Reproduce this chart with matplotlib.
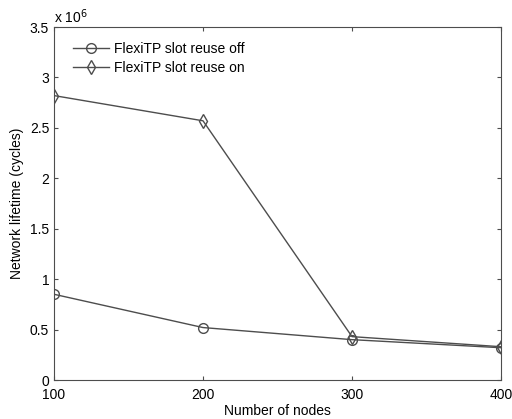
import matplotlib.pyplot as plt

plt.rcParams['font.family'] = ['Liberation Sans', 'DejaVu Sans']

nodes = [100, 200, 300, 400]
# network lifetime, in units of 10^6 cycles
reuse_off = [0.85, 0.52, 0.40, 0.32]
reuse_on = [2.82, 2.57, 0.43, 0.33]

fig = plt.figure(figsize=(5.12, 4.19), dpi=100)
ax = fig.add_axes([54 / 512, 1 - 380 / 419, 447 / 512, 353 / 419])

col = '0.3'
ax.plot(nodes, reuse_off, color=col, lw=1, marker='o', ms=7, mfc='none', mec=col, label='FlexiTP slot reuse off')
ax.plot(nodes, reuse_on, color=col, lw=1, marker='d', ms=7, mfc='none', mec=col, label='FlexiTP slot reuse on')

ax.set_xlim(100, 400)
ax.set_ylim(0, 3.5)
ax.set_xticks(nodes)
ax.set_yticks([0, 0.5, 1, 1.5, 2, 2.5, 3, 3.5])
ax.set_yticklabels(['0', '0.5', '1', '1.5', '2', '2.5', '3', '3.5'])
ax.tick_params(direction='in', top=True, right=True, labelsize=10, length=3, color=col)
ax.tick_params(axis='x', pad=6)
for s in ax.spines.values():
    s.set_color(col)

ax.set_xlabel('Number of nodes', fontsize=10, labelpad=1)
ax.set_ylabel('Network lifetime (cycles)', fontsize=10)
ax.text(0.0, 1.01, r'x 10$^6$', transform=ax.transAxes, fontsize=10)

leg = ax.legend(loc='upper left', bbox_to_anchor=(0.02, 0.985), fontsize=10, frameon=False,
                handlelength=2.6, labelspacing=0.35, handletextpad=0.4, borderaxespad=0.3)

plt.savefig('out.png')
